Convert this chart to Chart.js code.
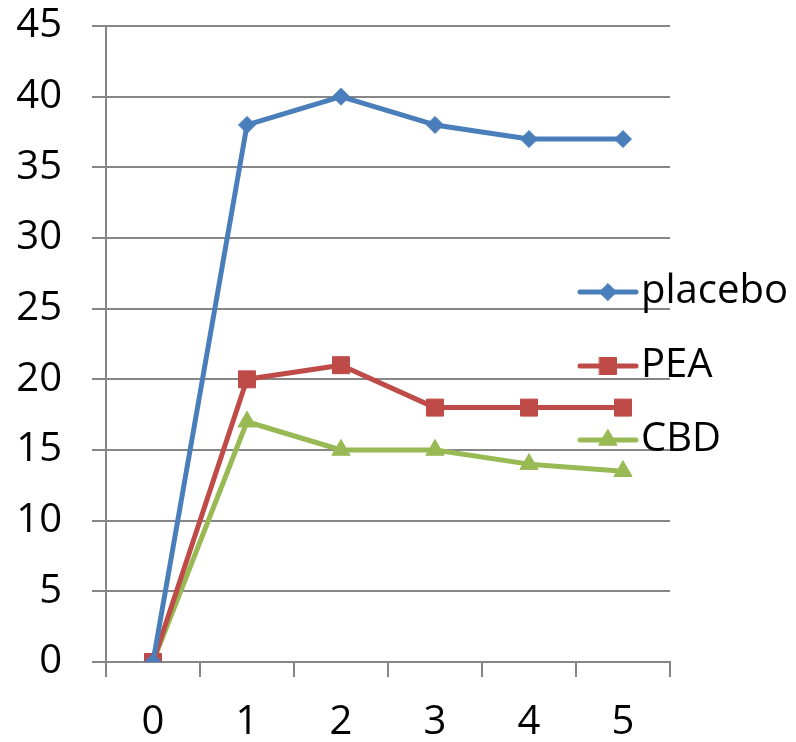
<!DOCTYPE html>
<html>
<head>
<meta charset="utf-8">
<script src="https://cdn.jsdelivr.net/npm/chart.js@4/dist/chart.umd.min.js"></script>
<style>
  html, body { margin: 0; padding: 0; background: #ffffff; }
  #wrap { width: 796px; height: 742px; }
</style>
</head>
<body>
<div id="wrap"><canvas id="chart" width="796" height="742"></canvas></div>
<script>
// Time points and measured values per treatment group
const categories = ['0', '1', '2', '3', '4', '5'];
const placebo = [0, 38, 40, 38, 37, 37];
const pea = [0, 20, 21, 18, 18, 18];
const cbd = [0, 17, 15, 15, 14, 13.5];
const seriesNames = ['placebo', 'PEA', 'CBD'];

const FONT = "'Open Sans', Lato, 'Liberation Sans', sans-serif";
const FONT_SIZE = 40;
const AXIS_GRAY = '#868686';

// Legend drawn on top of the plot, on the right-hand side
const overlayLegend = {
  id: 'overlayLegend',
  afterDraw(chart) {
    const ctx = chart.ctx;
    const rows = [292, 366, 440];
    const x0 = 580, x1 = 636, xm = 608, xt = 641;
    chart.data.datasets.forEach((ds, i) => {
      const y = rows[i];
      ctx.save();
      ctx.strokeStyle = ds.borderColor;
      ctx.lineWidth = 5;
      ctx.lineCap = 'round';
      ctx.beginPath();
      ctx.moveTo(x0, y);
      ctx.lineTo(x1, y);
      ctx.stroke();
      ctx.fillStyle = ds.pointBackgroundColor;
      ctx.strokeStyle = ds.pointBorderColor;
      ctx.lineWidth = 1;
      Chart.helpers.drawPoint(ctx, {
        pointStyle: ds.pointStyle,
        rotation: 0,
        borderWidth: 1,
        radius: ds.pointRadius
      }, xm, y);
      ctx.fillStyle = '#000000';
      ctx.font = FONT_SIZE + 'px ' + FONT;
      ctx.textAlign = 'left';
      ctx.textBaseline = 'middle';
      ctx.fillText(ds.label, xt, y);
      ctx.restore();
    });
  }
};

function series(label, data, color, style, radius) {
  return {
    label: label,
    data: data,
    borderColor: color,
    backgroundColor: color,
    pointBackgroundColor: color,
    pointBorderColor: color,
    pointStyle: style,
    pointRadius: radius,
    pointHoverRadius: radius,
    pointBorderWidth: 1,
    borderWidth: 5,
    borderJoinStyle: 'round',
    borderCapStyle: 'round',
    tension: 0,
    fill: false
  };
}

new Chart(document.getElementById('chart'), {
  type: 'line',
  data: {
    labels: categories,
    datasets: [
      series(seriesNames[0], placebo, '#4A7EBB', 'rectRot', 8.5),
      series(seriesNames[1], pea, '#BE4B48', 'rect', 12),
      series(seriesNames[2], cbd, '#98B954', 'triangle', 10.5)
    ]
  },
  options: {
    responsive: false,
    devicePixelRatio: 1,
    animation: false,
    events: [],
    layout: {
      padding: { top: 26, right: 126, left: 10, bottom: 0 }
    },
    plugins: {
      legend: { display: false },
      tooltip: { enabled: false }
    },
    scales: {
      x: {
        offset: true,
        grid: {
          offset: true,
          drawOnChartArea: false,
          drawTicks: true,
          tickLength: 15,
          color: AXIS_GRAY,
          lineWidth: 2
        },
        border: { display: true, color: AXIS_GRAY, width: 2 },
        ticks: {
          color: '#000000',
          font: { family: FONT, size: FONT_SIZE },
          padding: 22,
          maxRotation: 0
        },
        afterFit(scale) {
          scale.height = 80;
          scale.paddingLeft = 0;
          scale.paddingRight = 0;
        }
      },
      y: {
        min: 0,
        max: 45,
        ticks: {
          stepSize: 5,
          color: '#000000',
          font: { family: FONT, size: FONT_SIZE },
          padding: 30
        },
        grid: {
          color: AXIS_GRAY,
          lineWidth: 2,
          drawTicks: true,
          tickLength: 14
        },
        border: { display: true, color: AXIS_GRAY, width: 2 },
        afterFit(scale) {
          scale.width = 96;
          scale.paddingTop = 0;
          scale.paddingBottom = 0;
        }
      }
    }
  },
  plugins: [overlayLegend]
});
</script>
</body>
</html>
